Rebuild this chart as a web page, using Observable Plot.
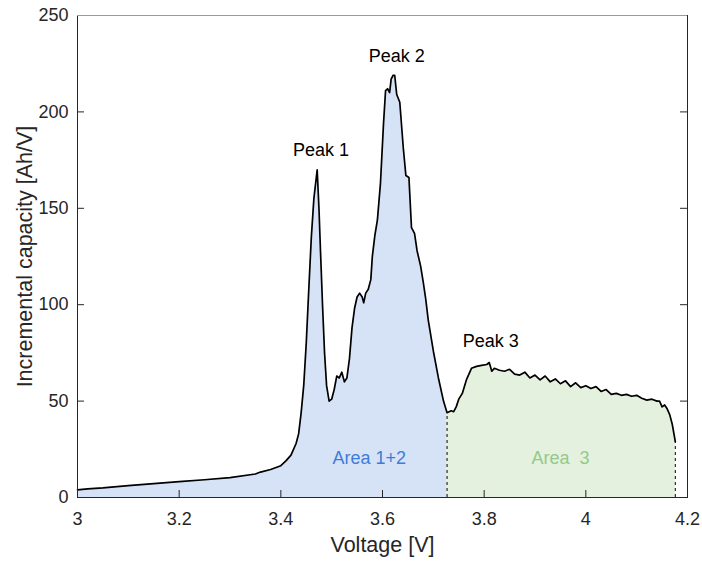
<!DOCTYPE html>
<html>
<head>
<meta charset="utf-8">
<script src="https://cdn.jsdelivr.net/npm/d3@7"></script>
<script src="https://cdn.jsdelivr.net/npm/@observablehq/plot@0.6"></script>
<style>
  html, body { margin: 0; padding: 0; background: #fff; }
  #chart { width: 702px; height: 563px; }
</style>
</head>
<body>
<div id="chart"></div>
<script>
// ---- data ----
const voltage = [
  3.000, 3.020, 3.050, 3.100, 3.150, 3.200, 3.250, 3.300, 3.350, 3.360, 3.380, 3.400,
  3.410, 3.420, 3.430, 3.435, 3.440, 3.445, 3.450, 3.455, 3.460, 3.465, 3.4715, 3.475,
  3.478, 3.482, 3.486, 3.490, 3.495, 3.500, 3.505, 3.510, 3.515, 3.520, 3.525, 3.530,
  3.535, 3.540, 3.545, 3.550, 3.555, 3.560, 3.563, 3.567, 3.572, 3.577, 3.580, 3.585,
  3.590, 3.596, 3.602, 3.606, 3.610, 3.614, 3.617, 3.621, 3.624, 3.628, 3.634, 3.641,
  3.646, 3.652, 3.657, 3.663, 3.668, 3.675, 3.680, 3.685, 3.690, 3.700, 3.710, 3.720,
  3.727, 3.735, 3.740, 3.745, 3.750, 3.757, 3.765, 3.770, 3.775, 3.785, 3.795, 3.805,
  3.810, 3.815, 3.820, 3.830, 3.840, 3.850, 3.860, 3.870, 3.880, 3.890, 3.900, 3.910,
  3.920, 3.930, 3.940, 3.950, 3.960, 3.970, 3.980, 3.990, 4.000, 4.010, 4.020, 4.030,
  4.040, 4.050, 4.060, 4.070, 4.080, 4.090, 4.100, 4.110, 4.120, 4.130, 4.140, 4.145,
  4.150, 4.155, 4.160, 4.165, 4.170, 4.176
];
const capacity = [
  4.0, 4.5, 5.0, 6.2, 7.2, 8.2, 9.2, 10.3, 12.2, 13.2, 14.5, 16.5,
  19, 22, 28, 33, 44, 58, 80, 108, 135, 155, 170, 150,
  128, 100, 75, 58, 50, 51, 56, 63, 62, 65, 60, 62,
  72, 88, 98, 104, 106, 104, 101, 106, 108, 113, 125, 136,
  144, 163, 194, 211, 212, 210, 217, 219, 219, 209, 205, 181,
  167, 166, 140, 137, 128, 120, 112, 103, 92, 76, 62, 50,
  44, 45, 44.5, 47, 51, 54, 61, 64, 67, 68, 68.5, 69,
  70, 65.5, 67, 66, 65.5, 66.5, 64, 63.5, 65, 62, 63.5, 61,
  63, 60, 61.5, 59, 60.5, 57.5, 59.5, 57, 58, 56.5, 57.5, 55,
  56, 53.5, 54, 53, 53.5, 52.5, 53, 51.5, 50.5, 51, 50, 50,
  47, 48, 46, 43, 38, 29
];
const areaBounds = [3.727, 4.176];          // dashed dividers
const xTicks = [3, 3.2, 3.4, 3.6, 3.8, 4, 4.2];
const yTicks = [0, 50, 100, 150, 200, 250];
const peakNames = ["Peak 1", "Peak 2", "Peak 3"];
const peakV = [3.479, 3.628, 3.813];
const peakC = [180, 229, 81];
const areaNames = ["Area 1+2", "Area \u00a03"];
const areaV = [3.574, 3.950];
const areaC = [20.2, 20.2];
const xLabel = "Voltage [V]";
const yLabel = "Incremental capacity [Ah/V]";

// ---- build tables ----
const data = voltage.map((v, i) => ({v, c: capacity[i]}));
const seg12 = data.filter(d => d.v <= areaBounds[0]);
const seg3 = data.filter(d => d.v >= areaBounds[0]);
const bounds = areaBounds.map(b => ({v: b, c: data.find(d => d.v === b).c}));
const peaks = peakNames.map((t, i) => ({t, v: peakV[i], c: peakC[i]}));
const areas = areaNames.map((t, i) => ({t, v: areaV[i], c: areaC[i]}));

const W = 702, H = 563, mL = 77, mR = 15, mT = 15, mB = 66;
const fw = W - mL - mR, fh = H - mT - mB;
const font = "'Liberation Sans', Arial, Helvetica, sans-serif";

const chart = Plot.plot({
  width: W, height: H,
  marginLeft: mL, marginRight: mR, marginTop: mT, marginBottom: mB,
  style: {fontFamily: font, fontSize: "18px", color: "#262626", background: "#fff"},
  x: {domain: [3, 4.2]},
  y: {domain: [0, 250]},
  marks: [
    Plot.areaY(seg12, {x: "v", y: "c", fill: "#d6e3f6"}),
    Plot.areaY(seg3, {x: "v", y: "c", fill: "#e4f1de"}),
    Plot.ruleX(bounds, {x: "v", y1: 0, y2: "c", stroke: "#000", strokeWidth: 1, strokeDasharray: "3,3"}),
    Plot.line(data, {x: "v", y: "c", stroke: "#000", strokeWidth: 1.7, strokeLinejoin: "round"}),
    Plot.text(peaks, {x: "v", y: "c", text: "t", fill: "#000", fontSize: 18}),
    Plot.text(areas, {x: "v", y: "c", text: "t", fill: d => d.t.startsWith("Area 1") ? "#3e7cd9" : "#93c98a", fontSize: 18}),
    // inward ticks
    Plot.ruleX(xTicks, {stroke: "#262626", insetTop: fh - 7}),
    Plot.ruleY(yTicks, {stroke: "#262626", insetRight: fw - 7}),
    Plot.ruleY(yTicks, {stroke: "#262626", insetLeft: fw - 7}),
    Plot.frame({stroke: "#262626"}),
    Plot.ruleY([250], {stroke: "#9a9a9a"}),
    Plot.axisX({ticks: xTicks, tickSize: 0, tickPadding: 15, label: null, fontSize: 18, tickFormat: d => String(d)}),
    Plot.axisY({ticks: yTicks, tickSize: 0, tickPadding: 9, label: null, fontSize: 18, tickFormat: d => String(d)}),
    Plot.text([xLabel], {frameAnchor: "bottom", text: d => d, lineAnchor: "middle", textAnchor: "middle", dy: 48, fontSize: 21.5, fill: "#262626"}),
    Plot.text([yLabel], {frameAnchor: "left", text: d => d, rotate: -90, textAnchor: "middle", lineAnchor: "middle", dx: -52, fontSize: 21.5, fill: "#262626"})
  ]
});
document.getElementById("chart").appendChild(chart);
</script>
</body>
</html>
